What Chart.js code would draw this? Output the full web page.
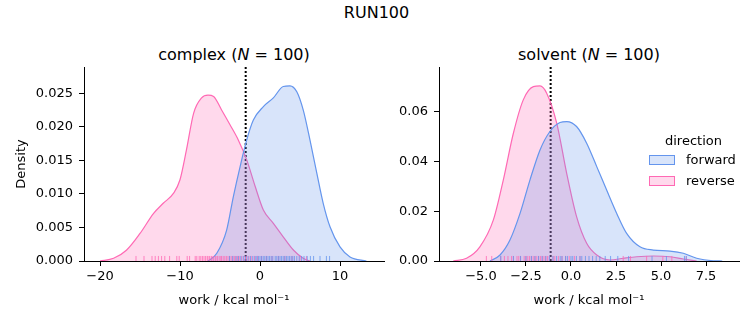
<!DOCTYPE html>
<html>
<head>
<meta charset="utf-8">
<script src="https://cdn.jsdelivr.net/npm/chart.js@4.4.1/dist/chart.umd.min.js"></script>
<style>
  body { margin: 0; background: #fff; font-family: "DejaVu Sans", sans-serif; }
  #wrap { position: relative; width: 753px; height: 325px; overflow: hidden; }
  #wrap canvas { position: absolute; top: 0; }
  .sup, .ttl { position: absolute; font-size: 16px; line-height: 16px; text-align: center; color: #000; white-space: nowrap; }
  .sup { left: 0; width: 753px; top: 5px; }
  .ttl { top: 47px; width: 300px; }
  #legend { position: absolute; left: 645px; top: 133px; font-size: 13px; color: #000; }
  #legend .head { margin-left: 20px; line-height: 16px; }
  #legend .row { display: flex; align-items: center; height: 21px; }
  #legend .sw { width: 26px; height: 10px; margin: 0 11px 0 4px; box-sizing: border-box; border: 1px solid; }
</style>
</head>
<body>
<div id="wrap">
  <div class="sup">RUN100</div>
  <div class="ttl" style="left:84px">complex (<i>N</i> = 100)</div>
  <div class="ttl" style="left:439px">solvent (<i>N</i> = 100)</div>
  <canvas id="complex" width="390" height="325" style="left:0"></canvas>
  <canvas id="solvent" width="363" height="325" style="left:390px"></canvas>
  <div id="legend">
    <div class="head">direction</div>
    <div class="row"><span class="sw" style="background:rgba(100,149,237,0.25);border-color:#6495ed"></span>forward</div>
    <div class="row"><span class="sw" style="background:rgba(255,105,180,0.25);border-color:#ff69b4"></span>reverse</div>
  </div>
</div>
<script>
// complex leg, KDE curves
const complexForwardX = [-6.5, -5.4, -4.17, -3.33, -2.5, -1.67, -0.83, 0.42, 1.67, 2.9, 3.75, 4.6, 5.4, 6.25, 7.1, 7.9, 8.75, 10, 11.25, 13.3];
const complexForwardY = [0, 0.00115, 0.0046, 0.0096, 0.014, 0.018, 0.021, 0.023, 0.0243, 0.026, 0.0261, 0.0252, 0.0225, 0.018, 0.0131, 0.0086, 0.0051, 0.0021, 0.0006, 0];
const complexReverseX = [-20, -18.3, -16.7, -15, -13.3, -12.1, -10.8, -10, -9.2, -8.3, -7.3, -6.5, -5.8, -4.8, -3.75, -2.7, -1.67, -0.6, 0.42, 1.67, 2.9, 4.2, 5.4, 6.25];
const complexReverseY = [0, 0.0004, 0.0016, 0.0041, 0.0071, 0.0086, 0.0101, 0.0121, 0.0165, 0.022, 0.0243, 0.0247, 0.0245, 0.0225, 0.0203, 0.018, 0.0151, 0.0111, 0.0076, 0.0056, 0.0036, 0.0016, 0.0004, 0];

// solvent leg
const solventForwardX = [-4.5, -3.94, -3.39, -2.83, -2.28, -1.72, -1.17, -0.61, -0.24, 0.31, 0.87, 1.43, 1.98, 2.54, 3.09, 3.83, 4.57, 5.5, 6.24, 6.98, 7.9, 8.4];
const solventForwardY = [0, 0.0024, 0.0084, 0.0191, 0.0325, 0.0446, 0.052, 0.0556, 0.056, 0.054, 0.0473, 0.0379, 0.0285, 0.0191, 0.0111, 0.0057, 0.0044, 0.004, 0.0031, 0.0011, 0.0001, 0];
const solventReverseX = [-6.54, -5.8, -5.06, -4.31, -3.76, -3.2, -2.65, -2.09, -1.72, -1.35, -0.79, -0.24, 0.31, 0.87, 1.43, 2.17, 2.91, 3.65, 4.57, 5.5, 6.24, 6.98];
const solventReverseY = [0, 0.0011, 0.0057, 0.0165, 0.0325, 0.0513, 0.0647, 0.07, 0.0703, 0.0674, 0.0553, 0.0352, 0.0178, 0.0071, 0.0024, 0.0004, 0.0011, 0.0017, 0.002, 0.0017, 0.0008, 0];

// rug samples (work values)
const complexForwardRug = [-3.8, -3.4, -3.0, -2.7, -2.4, -2.1, -1.8, -1.5, -1.2, -0.9, -0.6, -0.4, -0.2, 0.0, 0.2, 0.4, 0.6, 0.8, 1.0, 1.2, 1.4, 1.6, 1.9, 2.1, 2.3, 2.5, 2.7, 2.9, 3.1, 3.3, 3.5, 3.7, 3.9, 4.1, 4.3, 4.6, 4.9, 5.2, 5.5, 5.9, 6.3, 6.7, 7.5, 8.3, 8.7];
const complexReverseRug = [-15.5, -14.5, -13.5, -13.1, -12.7, -12.3, -11.9, -11.3, -10.4, -10.1, -9.1, -8.8, -8.1, -7.9, -7.6, -7.4, -7.2, -7.0, -6.8, -6.6, -6.5, -6.3, -6.1, -6.0, -5.8, -5.6, -5.5, -5.3, -5.1, -4.9, -4.8, -4.6, -4.4, -4.2, -4.0, -3.8, -3.6, -3.4, -3.2, -3.0, -2.8, -2.6, -2.3, -2.0, -1.7, -1.4, -1.1, -0.7, -0.3, 0.2, 0.8, 1.5, 2.3, 3.1, 4.0, 5.0, 5.8];
const solventForwardRug = [-3.9, -3.2, -2.8, -2.5, -2.2, -2.0, -1.8, -1.6, -1.4, -1.2, -1.0, -0.8, -0.6, -0.5, -0.3, -0.2, 0.0, 0.1, 0.3, 0.5, 0.6, 0.8, 1.0, 1.2, 1.4, 1.6, 1.9, 2.2, 2.6, 3.2, 4.5, 5.3, 6.3, 6.4];
const solventReverseRug = [-4.7, -4.4, -3.9, -3.7, -3.5, -3.3, -3.2, -3.0, -2.9, -2.8, -2.6, -2.5, -2.4, -2.3, -2.2, -2.1, -2.0, -1.9, -1.8, -1.7, -1.6, -1.5, -1.4, -1.3, -1.2, -1.0, -0.9, -0.7, -0.5, -0.3, -0.1, 0.2, 0.5, 2.9, 3.3, 4.2, 5.1, 5.6, 6.4];

// dotted reference lines
const complexMark = -1.79;
const solventMark = -1.13;

// ticks and axis limits
const complexXTicks = [-20, -10, 0, 10];
const complexYTicks = [0, 0.005, 0.010, 0.015, 0.020, 0.025];
const solventXTicks = [-5, -2.5, 0, 2.5, 5, 7.5];
const solventYTicks = [0, 0.02, 0.04, 0.06];
const complexXLim = [-22, 15.5];
const complexYMax = 0.0289;
const solventXLim = [-7.33, 9.33];
const solventYMax = 0.0779;

const BLUE = '#6495ed';
const PINK = '#ff69b4';
const FONT = { family: 'DejaVu Sans', size: 13 };

function fmt(dec) {
  return v => (v < 0 ? '\u2212' : '') + Math.abs(v).toFixed(dec);
}

function pts(xs, ys) {
  return xs.map((x, i) => ({ x: x, y: ys[i] }));
}

function kde(xs, ys, color, fillColor) {
  return {
    data: pts(xs, ys),
    showLine: true,
    borderColor: color,
    backgroundColor: fillColor,
    borderWidth: 1.2,
    fill: 'origin',
    pointRadius: 0,
    cubicInterpolationMode: 'monotone'
  };
}

function rug(values, yPos, color) {
  return {
    data: values.map(v => ({ x: v, y: yPos })),
    pointStyle: 'line',
    rotation: 90,
    pointRadius: 2.5,
    borderWidth: 1,
    borderColor: color,
    backgroundColor: color
  };
}

function makePanel(id, cfg) {
  const ctx = document.getElementById(id).getContext('2d');
  const rugY = cfg.yMax * 0.013;
  new Chart(ctx, {
    type: 'scatter',
    data: {
      datasets: [
        rug(cfg.fwdRug, rugY, 'rgba(100,149,237,0.8)'),
        rug(cfg.revRug, rugY, 'rgba(255,105,180,0.8)'),
        kde(cfg.fwdX, cfg.fwdY, BLUE, 'rgba(100,149,237,0.25)'),
        kde(cfg.revX, cfg.revY, PINK, 'rgba(255,105,180,0.25)'),
        {
          data: [{ x: cfg.mark, y: 0 }, { x: cfg.mark, y: cfg.yMax }],
          showLine: true,
          borderColor: '#000',
          borderWidth: 2,
          borderDash: [2, 2],
          pointRadius: 0,
          fill: false
        }
      ]
    },
    options: {
      responsive: false,
      animation: false,
      events: [],
      layout: { padding: { top: 67, right: cfg.padRight, left: 0, bottom: 0 } },
      plugins: { legend: { display: false }, tooltip: { enabled: false } },
      scales: {
        x: {
          type: 'linear',
          min: cfg.xLim[0],
          max: cfg.xLim[1],
          afterBuildTicks: s => { s.ticks = cfg.xTicks.map(v => ({ value: v })); },
          afterFit: s => { s.height = 64; },
          grid: { drawOnChartArea: false, drawTicks: true, tickLength: 5, color: '#000' },
          border: { display: true, color: '#000', width: 1 },
          ticks: { font: FONT, color: '#000', padding: 3, maxRotation: 0, callback: fmt(cfg.xDec) },
          title: { display: true, text: 'work / kcal mol\u207B\u00B9', font: FONT, color: '#000', padding: { top: 4, bottom: 17 } }
        },
        y: {
          type: 'linear',
          min: 0,
          max: cfg.yMax,
          afterBuildTicks: s => { s.ticks = cfg.yTicks.map(v => ({ value: v })); },
          afterFit: s => { s.width = cfg.yWidth; },
          grid: { drawOnChartArea: false, drawTicks: true, tickLength: 5, color: '#000' },
          border: { display: true, color: '#000', width: 1 },
          ticks: { font: FONT, color: '#000', padding: 6, callback: fmt(cfg.yDec) },
          title: { display: cfg.yTitle, text: 'Density', font: FONT, color: '#000', padding: 14 }
        }
      }
    }
  });
}

makePanel('complex', {
  fwdX: complexForwardX, fwdY: complexForwardY,
  revX: complexReverseX, revY: complexReverseY,
  fwdRug: complexForwardRug, revRug: complexReverseRug,
  mark: complexMark, xLim: complexXLim, yMax: complexYMax,
  xTicks: complexXTicks, yTicks: complexYTicks,
  xDec: 0, yDec: 3, yWidth: 84, padRight: 6, yTitle: true
});

makePanel('solvent', {
  fwdX: solventForwardX, fwdY: solventForwardY,
  revX: solventReverseX, revY: solventReverseY,
  fwdRug: solventForwardRug, revRug: solventReverseRug,
  mark: solventMark, xLim: solventXLim, yMax: solventYMax,
  xTicks: solventXTicks, yTicks: solventYTicks,
  xDec: 1, yDec: 2, yWidth: 49, padRight: 14, yTitle: false
});
</script>
</body>
</html>
